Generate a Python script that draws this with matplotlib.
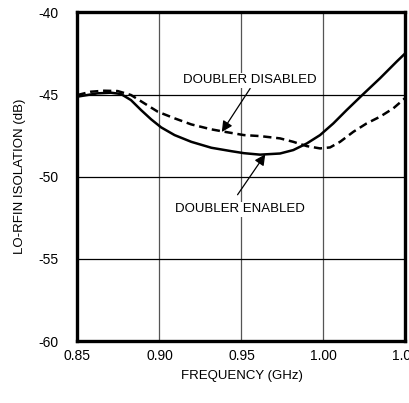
import numpy as np
import matplotlib.pyplot as plt

plt.rcParams['font.family'] = ['Liberation Sans', 'DejaVu Sans']
plt.rcParams['axes.unicode_minus'] = False

# doubler enabled (solid)
freq_en = [0.85, 0.8561, 0.8622, 0.8704, 0.8765, 0.8826, 0.8888, 0.8949, 0.901, 0.9092,
           0.9194, 0.9316, 0.9439, 0.9515, 0.9613, 0.9735, 0.9816, 0.9898, 0.9979, 1.006,
           1.0141, 1.0243, 1.0345, 1.0446, 1.05]
iso_en = [-45.13, -45.03, -44.93, -44.89, -44.97, -45.34, -45.95, -46.51, -47.0, -47.47,
          -47.88, -48.24, -48.45, -48.57, -48.66, -48.59, -48.38, -47.98, -47.47, -46.76,
          -45.95, -44.97, -44.01, -43.0, -42.48]

# doubler disabled (dashed)
freq_dis = [0.85, 0.8582, 0.8663, 0.8745, 0.8826, 0.8908, 0.899, 0.9092, 0.9194, 0.9316,
            0.9398, 0.9515, 0.9613, 0.9735, 0.9816, 0.9898, 0.9979, 1.004, 1.0101, 1.0182,
            1.0263, 1.0345, 1.0426, 1.05]
iso_dis = [-45.03, -44.83, -44.77, -44.79, -45.03, -45.54, -46.05, -46.45, -46.82, -47.12,
           -47.27, -47.47, -47.53, -47.67, -47.88, -48.14, -48.28, -48.22, -47.88, -47.27,
           -46.76, -46.35, -45.84, -45.2]

xticks = [0.85, 0.90, 0.95, 1.00, 1.05]
xticklabels = ['0.85', '0.90', '0.95', '1.00', '1.05']
yticks = [-60, -55, -50, -45, -40]

fig = plt.figure(figsize=(4.10, 4.03), dpi=100)
ax = fig.add_axes([0.189, 0.1538, 0.80, 0.8156])

for x in xticks[1:-1]:
    ax.axvline(x, color='#555555', lw=0.9, zorder=1)
for y in yticks[1:-1]:
    ax.axhline(y, color='black', lw=0.9, zorder=1)

ax.plot(freq_en, iso_en, color='black', lw=1.8, zorder=3)
ax.plot(freq_dis, iso_dis, color='black', lw=1.8, dashes=(3.3, 1.9), zorder=3)

ax.set_xlim(0.85, 1.05)
ax.set_ylim(-60, -40)
ax.set_xticks(xticks)
ax.set_xticklabels(xticklabels)
ax.set_yticks(yticks)
ax.tick_params(length=0, labelsize=10)
ax.tick_params(axis='x', pad=6)
ax.tick_params(axis='y', pad=13.5)
for s in ax.spines.values():
    s.set_linewidth(2.4)
    s.set_zorder(4)

ax.set_xlabel('FREQUENCY (GHz)', fontsize=9.5, labelpad=5)
ax.set_ylabel('LO-RFIN ISOLATION (dB)', fontsize=9.5, labelpad=9)

arrow = dict(arrowstyle='-|>', color='black', lw=0.9, mutation_scale=16, shrinkA=0, shrinkB=0)
ax.annotate('', xy=(0.938, -47.28), xytext=(0.9553, -44.63), arrowprops=arrow, zorder=5)
ax.annotate('', xy=(0.9645, -48.64), xytext=(0.9476, -51.1), arrowprops=arrow, zorder=5)
ax.text(0.9549, -44.13, 'DOUBLER DISABLED', fontsize=9.5, ha='center', va='center',
        bbox=dict(facecolor='white', edgecolor='none', pad=1), zorder=5)
ax.text(0.9492, -51.99, 'DOUBLER ENABLED', fontsize=9.5, ha='center', va='center',
        bbox=dict(facecolor='white', edgecolor='none', pad=1), zorder=5)

fig.savefig('out.png', dpi=100)
